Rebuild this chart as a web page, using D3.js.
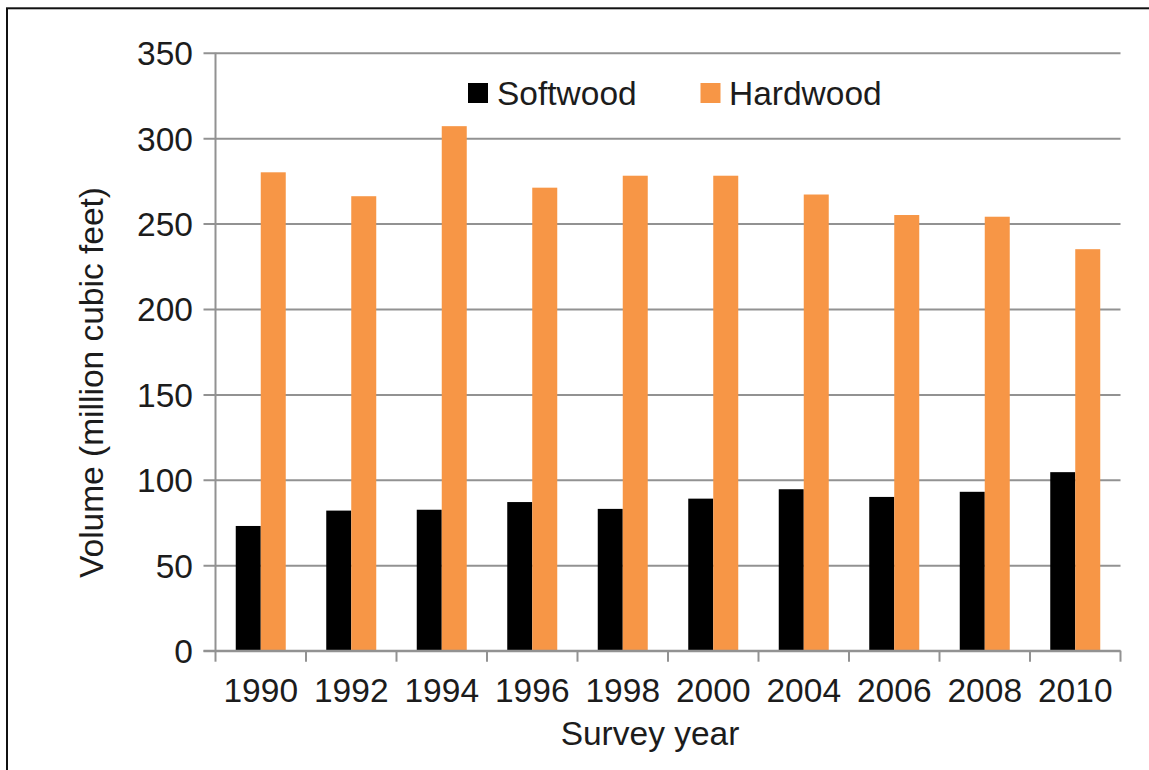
<!DOCTYPE html>
<html>
<head>
<meta charset="utf-8">
<script src="https://cdn.jsdelivr.net/npm/d3@7"></script>
<style>
  html, body { margin: 0; padding: 0; background: #fff; }
  svg { display: block; font-family: "Liberation Sans", Arial, sans-serif; }
</style>
</head>
<body>
<svg id="chart" width="1149" height="770"></svg>
<script>
// Growing-stock removals by survey year
const years = ["1990", "1992", "1994", "1996", "1998", "2000", "2004", "2006", "2008", "2010"];
const seriesNames = ["Softwood", "Hardwood"];
const softwood = [73, 82, 82.5, 87, 83, 89, 94.5, 90, 93, 104.5];
const hardwood = [280, 266, 307, 271, 278, 278, 267, 255, 254, 235];
const yTicks = [0, 50, 100, 150, 200, 250, 300, 350];
const seriesColors = ["#000000", "#F79646"];

const valuesBySeries = { Softwood: softwood, Hardwood: hardwood };
const rows = years.map((yr, i) => ({ year: yr, Softwood: softwood[i], Hardwood: hardwood[i] }));

const svg = d3.select("#chart");
const fontSize = 33.5;
const textColor = "#1c1c1c";
const gridColor = "#929292";

// Outer frame
svg.append("rect")
  .attr("x", 7).attr("y", 8.3)
  .attr("width", 1200).attr("height", 800)
  .attr("fill", "none").attr("stroke", "#111").attr("stroke-width", 2);

const plot = { left: 215.5, right: 1120.5, top: 52.7, bottom: 650.7 };

const x0 = d3.scaleBand().domain(years).range([plot.left, plot.right]).padding(0);
const x1 = d3.scaleBand().domain(seriesNames).range([0, x0.bandwidth()])
  .paddingInner(0).paddingOuter(0.81);
const y = d3.scaleLinear().domain([0, 350]).range([plot.bottom, plot.top]);
const color = d3.scaleOrdinal().domain(seriesNames).range(seriesColors);

// Horizontal gridlines with left tick marks
const yAxis = d3.axisLeft(y).tickValues(yTicks)
  .tickSize(-(plot.right - plot.left)).tickSizeOuter(0).tickPadding(0)
  .tickFormat("");
const gy = svg.append("g").attr("transform", `translate(${plot.left},0)`).call(yAxis);
gy.select(".domain").remove();
gy.selectAll(".tick line")
  .attr("x1", -12)
  .attr("stroke", gridColor).attr("stroke-width", 2);

// Y tick labels
svg.append("g").selectAll("text")
  .data(yTicks).join("text")
  .attr("x", 193).attr("y", d => y(d)).attr("dy", "0.37em")
  .attr("text-anchor", "end")
  .attr("font-size", fontSize).attr("fill", textColor)
  .text(d => d);

// Vertical axis line
svg.append("line")
  .attr("x1", plot.left).attr("x2", plot.left)
  .attr("y1", y(350)).attr("y2", y(0))
  .attr("stroke", gridColor).attr("stroke-width", 2);

// Bars
svg.append("g").selectAll("g")
  .data(rows).join("g")
  .attr("transform", d => `translate(${x0(d.year)},0)`)
  .selectAll("rect")
  .data(d => seriesNames.map(s => ({ key: s, value: d[s] })))
  .join("rect")
  .attr("x", d => x1(d.key))
  .attr("width", x1.bandwidth())
  .attr("y", d => y(d.value))
  .attr("height", d => y(0) - y(d.value))
  .attr("fill", d => color(d.key));

// X axis line with category boundary ticks
const bounds = years.map(yr => x0(yr)).concat([plot.right]);
svg.append("line")
  .attr("x1", plot.left - 12).attr("x2", plot.right)
  .attr("y1", y(0)).attr("y2", y(0))
  .attr("stroke", gridColor).attr("stroke-width", 2);
svg.append("g").selectAll("line")
  .data(bounds).join("line")
  .attr("x1", d => d).attr("x2", d => d)
  .attr("y1", y(0)).attr("y2", y(0) + 11)
  .attr("stroke", gridColor).attr("stroke-width", 2);

// X tick labels
svg.append("g").selectAll("text")
  .data(years).join("text")
  .attr("x", d => x0(d) + x0.bandwidth() / 2)
  .attr("y", 702)
  .attr("text-anchor", "middle")
  .attr("font-size", fontSize).attr("fill", textColor)
  .text(d => d);

// Axis titles
svg.append("text")
  .attr("x", 650).attr("y", 745)
  .attr("text-anchor", "middle")
  .attr("font-size", fontSize).attr("fill", textColor)
  .text("Survey year");

svg.append("text")
  .attr("transform", "translate(103,382.5) rotate(-90)")
  .attr("text-anchor", "middle")
  .attr("font-size", fontSize).attr("fill", textColor)
  .text("Volume (million cubic feet)");

// Legend
const legendItems = [
  { name: "Softwood", sx: 468, tx: 497 },
  { name: "Hardwood", sx: 700.5, tx: 729 }
];
const lg = svg.append("g");
lg.selectAll("rect").data(legendItems).join("rect")
  .attr("x", d => d.sx).attr("y", 83)
  .attr("width", 20).attr("height", 20)
  .attr("fill", d => color(d.name));
lg.selectAll("text").data(legendItems).join("text")
  .attr("x", d => d.tx).attr("y", 105)
  .attr("font-size", fontSize).attr("fill", textColor)
  .text(d => d.name);
</script>
</body>
</html>
